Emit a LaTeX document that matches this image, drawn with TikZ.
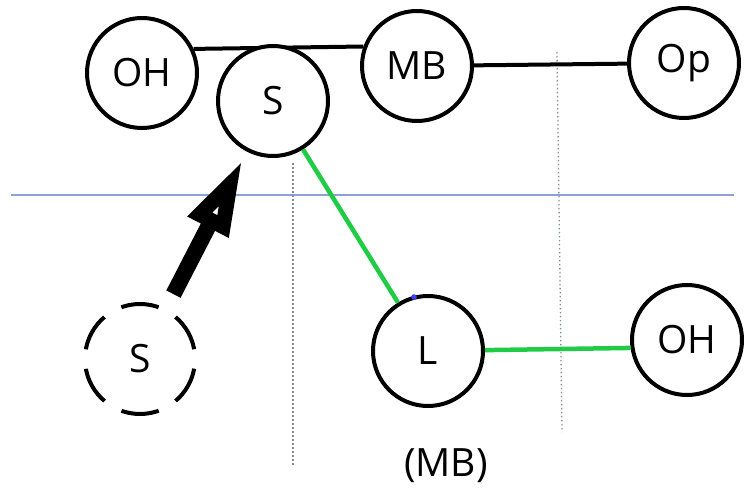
\documentclass[tikz,border=0pt]{standalone}
\usepackage{fontspec}
\setmainfont{Open Sans}
\usetikzlibrary{arrows.meta}

\definecolor{bondgreen}{RGB}{32,204,70}
\definecolor{planeblue}{RGB}{140,162,214}
\definecolor{guidegray}{RGB}{130,140,160}

\begin{document}
\begin{tikzpicture}[
    x=1pt, y=-1pt,
    atom/.style={circle, draw, line width=4pt, minimum size=110pt, inner sep=0pt, font=\fontsize{39}{41}\selectfont},
    ghost/.style={atom, dash pattern=on 38pt off 19.6pt, dash phase=47.8pt},
    bond/.style={line width=4pt},
    greenbond/.style={line width=4.5pt, draw=bondgreen},
    guide/.style={draw=guidegray, line width=1.3pt, dash pattern=on 1.5pt off 2.5pt},
    push/.style={line width=16pt, -{Triangle[open, line width=15pt, length=76pt, width=42pt]}, shorten <=16pt, shorten >=9pt},
]

% Page size
\useasboundingbox (0,0) rectangle (744,492);

% === Guide lines ===
\draw[planeblue, line width=1.5pt] (11,195) -- (734,195);
\draw[guide] (293,163) -- (293,467);
\draw[guide] (557,52) -- (562,432);

% === Top row ===
\node[atom] (OHa) at (142,73) {OH};
\node[atom] (MB) at (417,66) {MB};
\node[atom] (Op) at (684,63) {Op};
\draw[bond] (OHa.25) -- (MB.160);
\node[atom, fill=white] (S) at (273,101) {S};
\draw[bond] (MB) -- (Op);

% === Bottom row ===
\node[ghost] (Sd) at (140,359) {S};
\node[atom] (L) at (428,351) {L};
\node[atom] (OHb) at (687,340) {OH};

% Green bonds
\draw[greenbond] (S) -- (L);
\draw[greenbond] (L) -- (OHb.188);
\fill[blue!75] (414,297) circle (2.8pt);

% Big arrow
\draw[push] (Sd) -- (S);

% Label
\node[font=\fontsize{39}{41}\selectfont] (lbl) at (446,466) {(MB)};

\end{tikzpicture}
\end{document}
